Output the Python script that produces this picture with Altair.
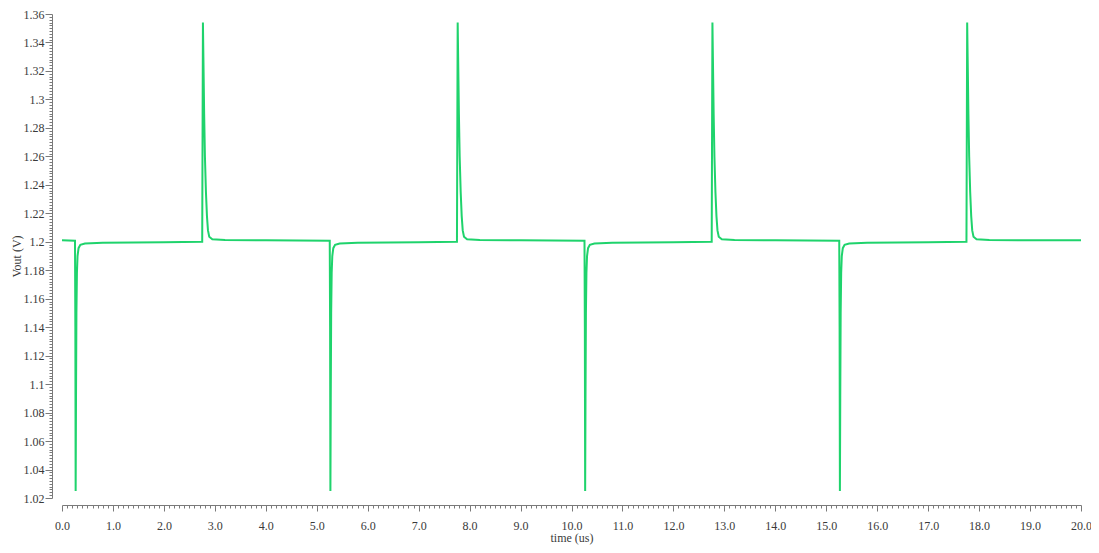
import altair as alt
import pandas as pd

# Transient waveform (time in us, Vout in V)
time_us = [
    0.000, 0.255, 0.262, 0.268, 0.275, 0.283, 0.293, 0.305, 0.325, 0.360, 0.450, 0.800, 2.000,
    2.752, 2.760, 2.766, 2.775, 2.790, 2.805, 2.825, 2.845, 2.865, 2.890, 2.950, 3.200, 4.000,
    5.255, 5.262, 5.268, 5.275, 5.283, 5.293, 5.305, 5.325, 5.360, 5.450, 5.800, 7.000,
    7.752, 7.760, 7.766, 7.775, 7.790, 7.805, 7.825, 7.845, 7.865, 7.890, 7.950, 8.200, 9.000,
    10.255, 10.262, 10.268, 10.275, 10.283, 10.293, 10.305, 10.325, 10.360, 10.450, 10.800, 12.000,
    12.752, 12.760, 12.766, 12.775, 12.790, 12.805, 12.825, 12.845, 12.865, 12.890, 12.950, 13.200, 14.000,
    15.255, 15.262, 15.268, 15.275, 15.283, 15.293, 15.305, 15.325, 15.360, 15.450, 15.800, 17.000,
    17.752, 17.760, 17.766, 17.775, 17.790, 17.805, 17.825, 17.845, 17.865, 17.890, 17.950, 18.200, 19.000,
    20.000,
]
vout_v = [
    1.2010, 1.2008, 1.1400, 1.0250, 1.0900, 1.1500, 1.1780, 1.1900, 1.1955, 1.1978, 1.1988, 1.1993, 1.1997,
    1.2000, 1.2900, 1.3540, 1.3300, 1.2900, 1.2600, 1.2350, 1.2180, 1.2080, 1.2035, 1.2018, 1.2012, 1.2011,
    1.2008, 1.1400, 1.0250, 1.0900, 1.1500, 1.1780, 1.1900, 1.1955, 1.1978, 1.1988, 1.1993, 1.1997,
    1.2000, 1.2900, 1.3540, 1.3300, 1.2900, 1.2600, 1.2350, 1.2180, 1.2080, 1.2035, 1.2018, 1.2012, 1.2011,
    1.2008, 1.1400, 1.0250, 1.0900, 1.1500, 1.1780, 1.1900, 1.1955, 1.1978, 1.1988, 1.1993, 1.1997,
    1.2000, 1.2900, 1.3540, 1.3300, 1.2900, 1.2600, 1.2350, 1.2180, 1.2080, 1.2035, 1.2018, 1.2012, 1.2011,
    1.2008, 1.1400, 1.0250, 1.0900, 1.1500, 1.1780, 1.1900, 1.1955, 1.1978, 1.1988, 1.1993, 1.1997,
    1.2000, 1.2900, 1.3540, 1.3300, 1.2900, 1.2600, 1.2350, 1.2180, 1.2080, 1.2035, 1.2018, 1.2012, 1.2011,
    1.2010,
]

# Axis ticks (major labelled ticks, plus minor tick positions)
y_major_ticks = [1.02, 1.04, 1.06, 1.08, 1.1, 1.12, 1.14, 1.16, 1.18, 1.2,
                 1.22, 1.24, 1.26, 1.28, 1.3, 1.32, 1.34, 1.36]
x_major_ticks = [0.0, 1.0, 2.0, 3.0, 4.0, 5.0, 6.0, 7.0, 8.0, 9.0, 10.0,
                 11.0, 12.0, 13.0, 14.0, 15.0, 16.0, 17.0, 18.0, 19.0, 20.0]
y_minor_ticks = [round(1.02 + 0.002 * i, 4) for i in range(171)]
x_minor_ticks = [round(0.1 * i, 2) for i in range(201)]

df = pd.DataFrame({"time": time_us, "vout": vout_v})

FONT = "Liberation Serif"
AXIS_COLOR = "#7a7a7a"
LABEL_COLOR = "#3a3a3a"

x_axis = alt.Axis(
    values=x_minor_ticks,
    labelExpr="abs(datum.value - round(datum.value)) < 0.01 ? format(datum.value, '.1f') : ''",
    labelOverlap=False,
    labelFlush=False,
    tickSize={"condition": {"test": "abs(datum.value - round(datum.value)) < 0.01", "value": 6},
              "value": 3},
    offset=7,
    grid=False,
    domainColor=AXIS_COLOR,
    tickColor=AXIS_COLOR,
    labelColor=LABEL_COLOR,
    labelFont=FONT,
    labelFontSize=12,
    labelPadding=9,
    title="time (us)",
    titleFont=FONT,
    titleFontSize=12,
    titleFontWeight="normal",
    titleColor=LABEL_COLOR,
    titlePadding=1,
)

y_axis = alt.Axis(
    values=y_minor_ticks,
    labelExpr="abs(datum.value*50 - round(datum.value*50)) < 0.01 ? format(datum.value, '~g') : ''",
    labelOverlap=False,
    labelFlush=False,
    tickSize={"condition": {"test": "abs(datum.value*50 - round(datum.value*50)) < 0.01", "value": 7},
              "value": 3},
    offset=10,
    grid=False,
    domainColor=AXIS_COLOR,
    tickColor=AXIS_COLOR,
    labelColor=LABEL_COLOR,
    labelFont=FONT,
    labelFontSize=12,
    labelPadding=1,
    title="Vout (V)",
    titleFont=FONT,
    titleFontSize=12,
    titleFontWeight="normal",
    titleColor=LABEL_COLOR,
    titlePadding=0,
)

chart = alt.Chart(df).mark_line(color="#1fd36c", strokeWidth=2, clip=True).encode(
    x=alt.X("time:Q", scale=alt.Scale(domain=[0, 20], nice=False, zero=False), axis=x_axis),
    y=alt.Y("vout:Q", scale=alt.Scale(domain=[1.02, 1.36], nice=False, zero=False), axis=y_axis),
).properties(
    width=1019,
    height=484,
    autosize=alt.AutoSizeParams(type="none"),
    padding={"left": 54, "top": 6, "right": 10, "bottom": 47},
).configure(
    background="white",
    font=FONT,
).configure_view(
    stroke=None,
)

chart.save("out.html", embed_options={"renderer": "svg", "actions": False})
